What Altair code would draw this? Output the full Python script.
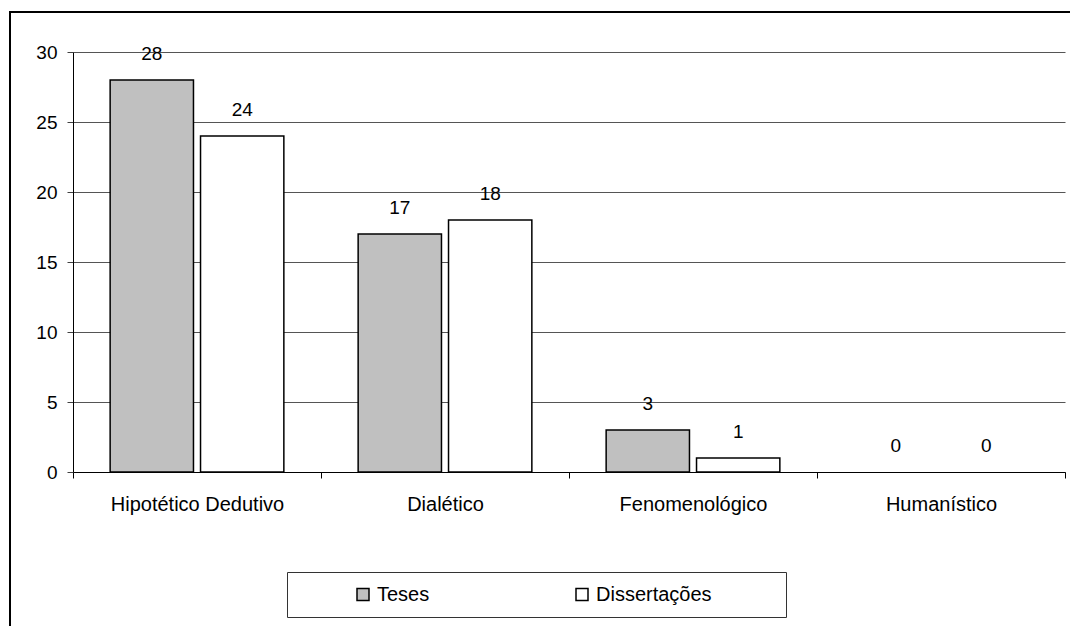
import altair as alt
import pandas as pd

# Research method counts for theses and dissertations
methods = ["Hipotético Dedutivo", "Dialético", "Fenomenológico", "Humanístico"]
series = ["Teses", "Dissertações"]
teses = [28, 17, 3, 0]
dissertacoes = [24, 18, 1, 0]

rows = []
for m, t, d in zip(methods, teses, dissertacoes):
    rows.append({"metodo": m, "tipo": "Teses", "valor": t})
    rows.append({"metodo": m, "tipo": "Dissertações", "valor": d})
df = pd.DataFrame(rows)

FONT = "Liberation Sans"

x_enc = alt.X(
    "metodo:N",
    sort=methods,
    title=None,
    scale=alt.Scale(paddingInner=0, paddingOuter=0),
    axis=alt.Axis(
        labelAngle=0,
        labelFontSize=20,
        labelColor="black",
        labelPadding=16,
        tickBand="extent",
        tickSize=6,
        tickColor="black",
        domainColor="black",
        grid=False,
    ),
)
xoff_enc = alt.XOffset(
    "tipo:N",
    sort=series,
    scale=alt.Scale(paddingInner=0.078, paddingOuter=0.411),
)
y_enc = alt.Y(
    "valor:Q",
    title=None,
    scale=alt.Scale(domain=[0, 30], nice=False),
    axis=alt.Axis(
        values=[0, 5, 10, 15, 20, 25, 30],
        labelFontSize=19,
        labelColor="black",
        labelPadding=10,
        tickSize=6,
        tickColor="#404040",
        domainColor="black",
        gridColor="#555555",
        gridWidth=1,
    ),
)

# Bars (empty categories draw no bar, only their "0" label)
bars = alt.Chart(df).transform_filter(
    alt.datum.valor > 0
).mark_bar(stroke="black", strokeWidth=1.5).encode(
    x=x_enc,
    xOffset=xoff_enc,
    y=y_enc,
    fill=alt.Fill(
        "tipo:N",
        sort=series,
        scale=alt.Scale(domain=series, range=["#C0C0C0", "#FFFFFF"]),
        legend=alt.Legend(
            title="\u00a0",
            titleOrient="right",
            titleFontSize=1,
            titlePadding=62,
            orient="none",
            legendX=214,
            legendY=520,
            direction="horizontal",
            columns=2,
            columnPadding=89,
            padding=12.5,
            strokeColor="#333333",
            symbolType="square",
            symbolSize=144,
            symbolStrokeColor="black",
            symbolStrokeWidth=1.5,
            symbolOffset=53.5,
            labelOffset=4,
            labelFontSize=20,
            labelColor="black",
            labelLimit=300,
        ),
    ),
)

labels = alt.Chart(df).mark_text(
    dy=-20, baseline="alphabetic", fontSize=19, color="black"
).encode(
    x=alt.X("metodo:N", sort=methods),
    xOffset=alt.XOffset("tipo:N", sort=series),
    y="valor:Q",
    text="valor:Q",
)

# Outer frame around the whole figure
frame = alt.Chart(pd.DataFrame({"k": [0]})).mark_rect(
    fill=None, stroke="black", strokeWidth=2
).encode(
    x=alt.value(-63),
    x2=alt.value(1012),
    y=alt.value(-40),
    y2=alt.value(600),
)

chart = (
    alt.layer(bars, labels, frame)
    .properties(
        width=992,
        height=420,
        autosize=alt.AutoSizeParams(type="none"),
        padding={"left": 73, "top": 52, "right": 5, "bottom": 154},
        background="white",
    )
    .configure(font=FONT)
    .configure_view(stroke=None)
)

chart.save("out.html", embed_options={"renderer": "svg", "actions": False})
